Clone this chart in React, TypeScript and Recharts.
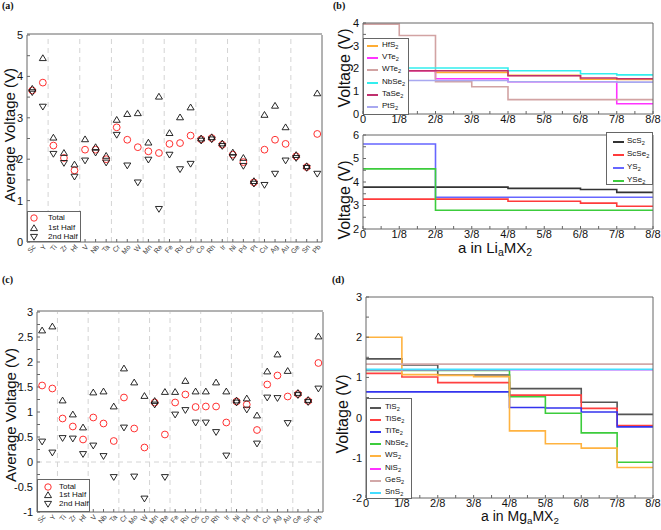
import React from "react";
import {
  Line,
  LineChart,
  ReferenceLine,
  Scatter,
  ScatterChart,
  XAxis,
  YAxis,
} from "recharts";

const SANS = '"Liberation Sans", Arial, Helvetica, sans-serif';
const SERIF = '"Liberation Serif", "DejaVu Serif", serif';
const FRAME = "#666";

// metals on the x axis of (a) and (c), grouped by column of the periodic table
const metals = ["Sc", "Y", "Ti", "Zr", "Hf", "V", "Nb", "Ta", "Cr", "Mo", "W", "Mn", "Re", "Fe", "Ru", "Os", "Co", "Rh", "Ir", "Ni", "Pd", "Pt", "Cu", "Ag", "Au", "Ge", "Sn", "Pb"];
const groupNames = ["III", "IV", "V", "VI", "VII", "VIII", "IX", "X", "XI", "XIV"];
const groupSizes = [2, 3, 3, 3, 2, 3, 3, 3, 3, 3];

// (a) Li, average voltages
const liTotal = [3.66, 3.85, 2.33, 2.03, 1.73, 2.23, 2.23, 2.0, 2.77, 2.47, 2.29, 2.19, 2.15, 2.37, 2.39, 2.57, 2.48, 2.51, 2.35, 2.11, 1.93, 1.44, 2.23, 2.47, 2.37, 2.07, 1.81, 2.61];
const liFirstHalf = [3.7, 4.44, 2.52, 2.15, 1.87, 2.48, 2.29, 2.08, 2.95, 3.09, 3.11, 2.4, 3.51, 2.63, 3.01, 3.25, 2.5, 2.53, 2.38, 2.16, 2.03, 1.47, 3.07, 3.29, 2.77, 2.1, 1.83, 3.59];
const liSecondHalf = [3.62, 3.27, 2.13, 1.91, 1.58, 1.97, 2.16, 1.92, 2.59, 1.85, 1.44, 1.99, 0.8, 2.11, 1.76, 1.89, 2.45, 2.48, 2.32, 2.05, 1.84, 1.41, 1.38, 1.65, 1.97, 2.03, 1.79, 1.65];

// (c) Mg, average voltages
const mgTotal = [1.53, 1.47, 0.87, 0.71, 0.45, 0.89, 0.77, 0.42, 1.29, 0.67, 0.29, 1.19, 0.55, 1.19, 1.35, 1.1, 1.11, 1.11, 0.79, 1.21, 1.15, 0.64, 1.55, 1.73, 1.31, 1.36, 1.22, 1.98];
const mgFirstHalf = [2.63, 2.71, 1.23, 0.95, 0.69, 1.39, 1.41, 1.11, 1.87, 1.59, 1.32, 1.22, 1.4, 1.4, 1.62, 1.41, 1.41, 1.59, 1.41, 1.23, 1.27, 0.93, 1.81, 2.15, 1.82, 1.38, 1.24, 2.51];
const mgSecondHalf = [0.41, 0.19, 0.48, 0.47, 0.16, 0.33, 0.12, -0.3, 0.69, -0.29, -0.73, 1.15, -0.3, 0.95, 1.04, 0.79, 0.79, 0.6, 0.13, 1.19, 1.05, 0.37, 1.29, 1.28, 0.78, 1.34, 1.2, 1.47];

const aTicks = [0, 0.5, 1, 1.5, 2, 2.5, 3, 3.5, 4, 4.5, 5];
const cTicks = [-1, -0.75, -0.5, -0.25, 0, 0.25, 0.5, 0.75, 1, 1.25, 1.5, 1.75, 2, 2.25, 2.5, 2.75, 3];

// (b) and (d): voltage on each 1/8 step of a
const fractions = ["0", "1/8", "2/8", "3/8", "4/8", "5/8", "6/8", "7/8", "8/8"];
const stepTicks = [0, 0.5, 1, 1.5, 2, 2.5, 3, 3.5, 4, 4.5, 5, 5.5, 6, 6.5, 7, 7.5, 8];

const hfS2Li = [1.9, 1.9, 1.83, 1.83, 1.7, 1.7, 1.53, 1.52];
const vTe2Li = [1.9, 1.9, 1.55, 1.55, 1.42, 1.42, 1.42, 0.45];
const wTe2Li = [3.95, 3.45, 1.42, 1.2, 0.63, 0.63, 0.63, 0.63];
const nbSe2Li = [2.02, 2.02, 2.02, 2.02, 1.9, 1.9, 1.77, 1.72];
const taSe2Li = [1.9, 1.9, 1.9, 1.9, 1.68, 1.68, 1.58, 1.55];
const ptS2Li = [1.47, 1.47, 1.47, 1.47, 1.42, 1.42, 1.42, 1.4];

const scS2Li = [3.78, 3.78, 3.78, 3.78, 3.73, 3.73, 3.68, 3.56];
const scSe2Li = [3.27, 3.27, 3.27, 3.27, 3.18, 3.18, 3.1, 2.97];
const yS2Li = [5.62, 5.62, 3.35, 3.35, 3.35, 3.35, 3.35, 3.35];
const ySe2Li = [4.56, 4.56, 2.8, 2.8, 2.8, 2.8, 2.8, 2.8];

const tiS2Mg = [1.46, 1.31, 1.06, 1.06, 0.72, 0.72, 0.38, 0.08];
const tiSe2Mg = [1.1, 1.01, 0.87, 0.87, 0.56, 0.56, 0.23, -0.2];
const tiTe2Mg = [0.64, 0.64, 0.64, 0.64, 0.25, 0.24, 0.14, -0.23];
const nbSe2Mg = [1.17, 1.17, 1.17, 1.17, 0.52, 0.11, -0.38, -1.11];
const wS2Mg = [2.0, 1.07, 1.05, 1.02, -0.33, -0.65, -0.76, -1.24];
const niS2Mg = [1.19, 1.19, 1.19, 1.19, 1.19, 1.19, 1.19, 1.19];
const geS2Mg = [1.33, 1.33, 1.33, 1.33, 1.33, 1.33, 1.33, 1.33];
const snS2Mg = [1.2, 1.2, 1.2, 1.2, 1.2, 1.2, 1.2, 1.2];

type StepSeries = { name: string; color: string; values: number[] };

const liTopSeries: StepSeries[] = [
  { name: "HfS2", color: "#ffad33", values: hfS2Li },
  { name: "VTe2", color: "#ff33ff", values: vTe2Li },
  { name: "WTe2", color: "#d2a3a3", values: wTe2Li },
  { name: "NbSe2", color: "#33eeee", values: nbSe2Li },
  { name: "TaSe2", color: "#c0306e", values: taSe2Li },
  { name: "PtS2", color: "#a8a8f0", values: ptS2Li },
];
const liBottomSeries: StepSeries[] = [
  { name: "ScS2", color: "#333333", values: scS2Li },
  { name: "ScSe2", color: "#ff3b3b", values: scSe2Li },
  { name: "YS2", color: "#6666ff", values: yS2Li },
  { name: "YSe2", color: "#3ccc3c", values: ySe2Li },
];
const mgSeries: StepSeries[] = [
  { name: "TiS2", color: "#555555", values: tiS2Mg },
  { name: "TiSe2", color: "#ff4040", values: tiSe2Mg },
  { name: "TiTe2", color: "#3333ee", values: tiTe2Mg },
  { name: "NbSe2", color: "#3ccc3c", values: nbSe2Mg },
  { name: "WS2", color: "#ffb340", values: wS2Mg },
  { name: "NiS2", color: "#ff33ff", values: niS2Mg },
  { name: "GeS2", color: "#d2a8a8", values: geS2Mg },
  { name: "SnS2", color: "#44ddff", values: snS2Mg },
];

const metalIdx = metals.map((_, i) => i);
const groupStarts = groupSizes.map((_, i) => groupSizes.slice(0, i).reduce((a, b) => a + b, 0));
const groupCenters = groupStarts.map((s, i) => s + (groupSizes[i] - 1) / 2);
const groupBounds = groupStarts.slice(1).map((s) => s - 0.5);

const circleShape = (p: any) => (
  <circle cx={p.cx} cy={p.cy} r={3.4} fill="none" stroke="#ff3030" strokeWidth={1} />
);
const upShape = (p: any) => (
  <path
    d={`M${p.cx},${p.cy - 3.4}L${p.cx + 3.5},${p.cy + 2.4}L${p.cx - 3.5},${p.cy + 2.4}Z`}
    fill="none"
    stroke="#111"
    strokeWidth={0.9}
  />
);
const downShape = (p: any) => (
  <path
    d={`M${p.cx},${p.cy + 3.4}L${p.cx + 3.5},${p.cy - 2.4}L${p.cx - 3.5},${p.cy - 2.4}Z`}
    fill="none"
    stroke="#111"
    strokeWidth={0.9}
  />
);

// every axis is 1px thick so its line sits on the plot edge; margins hold the labels
function VoltageChart({
  total,
  first,
  second,
  yDomain,
  yTicks,
  labelStep,
  width,
  height,
  margin,
  groupGap,
  zeroLine,
}: any) {
  const pts = (vals: number[]) => vals.map((v, i) => ({ x: i, y: v }));
  const xDomain = [-0.5, 27.45];
  const tickFont = { fontSize: 11, fill: "#111" };
  return (
    <ScatterChart width={width} height={height} margin={margin}>
      <XAxis
        xAxisId="b"
        type="number"
        dataKey="x"
        domain={xDomain}
        allowDataOverflow
        ticks={metalIdx}
        interval={0}
        height={1}
        stroke={FRAME}
        tickSize={-3}
        tickMargin={5}
        tickFormatter={(v: number) => metals[v]}
        tick={{ fontSize: 7, fill: "#444", angle: -50, textAnchor: "end" }}
      />
      <XAxis
        xAxisId="t"
        orientation="top"
        type="number"
        domain={xDomain}
        allowDataOverflow
        ticks={metalIdx}
        interval={0}
        height={1}
        stroke={FRAME}
        tickSize={-3}
        tick={false}
      />
      <XAxis
        xAxisId="g"
        orientation="top"
        type="number"
        domain={xDomain}
        allowDataOverflow
        ticks={groupCenters}
        interval={0}
        height={1}
        axisLine={false}
        tickLine={false}
        tickSize={0}
        tickMargin={groupGap}
        tickFormatter={(_: number, i: number) => groupNames[i]}
        tick={{ fontSize: 8, fill: "#222" }}
      />
      <YAxis
        yAxisId="l"
        type="number"
        dataKey="y"
        domain={yDomain}
        allowDataOverflow
        ticks={yTicks}
        interval={0}
        width={1}
        stroke={FRAME}
        tickSize={-3}
        tickMargin={7}
        tickFormatter={(v: number) => (Math.abs(v / labelStep - Math.round(v / labelStep)) < 1e-6 ? String(v) : "")}
        tick={tickFont}
      />
      <YAxis
        yAxisId="r"
        orientation="right"
        type="number"
        domain={yDomain}
        allowDataOverflow
        ticks={yTicks}
        interval={0}
        width={1}
        stroke={FRAME}
        tickSize={-3}
        tick={false}
      />
      {groupBounds.map((b) => (
        <ReferenceLine key={b} xAxisId="b" yAxisId="l" x={b} stroke="#d4d4d4" strokeDasharray="5 4" />
      ))}
      {zeroLine && <ReferenceLine xAxisId="b" yAxisId="l" y={0} stroke="#d4d4d4" strokeDasharray="5 4" />}
      <Scatter xAxisId="b" yAxisId="l" data={pts(total)} shape={circleShape} isAnimationActive={false} />
      <Scatter xAxisId="b" yAxisId="l" data={pts(first)} shape={upShape} isAnimationActive={false} />
      <Scatter xAxisId="b" yAxisId="l" data={pts(second)} shape={downShape} isAnimationActive={false} />
    </ScatterChart>
  );
}

function StepChart({ series, yDomain, yTicks, width, height, margin }: any) {
  const steps = fractions.map((_, i) => i);
  const rows = steps.map((i) => {
    const row: Record<string, number> = { x: i };
    series.forEach((s: StepSeries) => {
      row[s.name] = s.values[Math.min(i, s.values.length - 1)];
    });
    return row;
  });
  return (
    <LineChart width={width} height={height} margin={margin} data={rows}>
      <XAxis
        xAxisId="b"
        type="number"
        dataKey="x"
        domain={[0, 8]}
        ticks={stepTicks}
        interval={0}
        height={1}
        stroke={FRAME}
        tickSize={-3}
        tickMargin={4}
        tickFormatter={(v: number) => (Number.isInteger(v) ? fractions[v] : "")}
        tick={{ fontSize: 11, fill: "#111" }}
      />
      <XAxis
        xAxisId="t"
        orientation="top"
        type="number"
        domain={[0, 8]}
        ticks={stepTicks}
        interval={0}
        height={1}
        stroke={FRAME}
        tickSize={-3}
        tick={false}
      />
      <YAxis
        yAxisId="l"
        type="number"
        domain={yDomain}
        allowDataOverflow
        ticks={yTicks}
        interval={0}
        width={1}
        stroke={FRAME}
        tickSize={-3}
        tickMargin={7}
        tickFormatter={(v: number) => (Number.isInteger(v) ? String(v) : "")}
        tick={{ fontSize: 11, fill: "#111" }}
      />
      <YAxis
        yAxisId="r"
        orientation="right"
        type="number"
        domain={yDomain}
        allowDataOverflow
        ticks={yTicks}
        interval={0}
        width={1}
        stroke={FRAME}
        tickSize={-3}
        tick={false}
      />
      {series.map((s: StepSeries) => (
        <Line
          key={s.name}
          xAxisId="b"
          yAxisId="l"
          dataKey={s.name}
          type="stepAfter"
          stroke={s.color}
          strokeWidth={1.6}
          dot={false}
          isAnimationActive={false}
        />
      ))}
    </LineChart>
  );
}

function Formula({ name }: { name: string }) {
  const base = name.replace(/2$/, "");
  return (
    <span>
      {base}
      {base !== name && <sub style={{ fontSize: "0.7em", verticalAlign: "-0.3em" }}>2</sub>}
    </span>
  );
}

function Txt({ x, y, size, rotate = 0, children, family = SANS, weight = 400, anchor = "middle" }: any) {
  const tx = anchor === "start" ? "0" : "-50%";
  return (
    <div
      style={{
        position: "absolute",
        left: x,
        top: y,
        transform: `translate(${tx},-50%) rotate(${rotate}deg)`,
        fontSize: size,
        fontFamily: family,
        fontWeight: weight,
        whiteSpace: "nowrap",
        lineHeight: 1,
        color: "#111",
      }}
    >
      {children}
    </div>
  );
}

function MarkerLegend({ left, top, width, height, markerX, labelX, rows }: any) {
  const items = [
    { label: "Total", shape: <circle cx={4} cy={4} r={3.2} fill="none" stroke="#ff3030" strokeWidth={1} /> },
    { label: "1st Half", shape: <path d="M4,0.8L7.5,6.6L0.5,6.6Z" fill="none" stroke="#111" strokeWidth={0.9} /> },
    { label: "2nd Half", shape: <path d="M4,7.2L7.5,1.4L0.5,1.4Z" fill="none" stroke="#111" strokeWidth={0.9} /> },
  ];
  return (
    <div
      style={{
        position: "absolute",
        left,
        top,
        width,
        height,
        border: `1px solid ${FRAME}`,
        background: "#fff",
        boxSizing: "border-box",
      }}
    >
      {items.map((it, i) => (
        <React.Fragment key={it.label}>
          <svg width={8} height={8} style={{ position: "absolute", left: markerX - 4, top: rows[i] - 4 }}>
            {it.shape}
          </svg>
          <Txt x={labelX} y={rows[i]} size={8} anchor="start">
            {it.label}
          </Txt>
        </React.Fragment>
      ))}
    </div>
  );
}

function LineLegend({ left, top, width, height, series, firstRow, rowGap, lineX, lineW, labelX }: any) {
  return (
    <div
      style={{
        position: "absolute",
        left,
        top,
        width,
        height,
        border: `1px solid ${FRAME}`,
        background: "#fff",
        boxSizing: "border-box",
      }}
    >
      {series.map((s: StepSeries, i: number) => (
        <React.Fragment key={s.name}>
          <div
            style={{
              position: "absolute",
              left: lineX,
              top: firstRow + i * rowGap - 1,
              width: lineW,
              height: 2,
              background: s.color,
            }}
          />
          <Txt x={labelX} y={firstRow + i * rowGap} size={8} anchor="start">
            <Formula name={s.name} />
          </Txt>
        </React.Fragment>
      ))}
    </div>
  );
}

export default function App() {
  return (
    <div
      style={{
        position: "absolute",
        left: 0,
        top: 0,
        width: 661,
        height: 530,
        background: "#fff",
        fontFamily: SANS,
        overflow: "hidden",
      }}
    >
      <div style={{ position: "absolute", left: 0, top: 0 }}>
        <VoltageChart
          total={liTotal}
          first={liFirstHalf}
          second={liSecondHalf}
          yDomain={[0, 5]}
          yTicks={aTicks}
          labelStep={1}
          width={330}
          height={265}
          margin={{ top: 33, right: 7, bottom: 22, left: 26 }}
          groupGap={10}
        />
      </div>
      <div style={{ position: "absolute", left: 0, top: 265 }}>
        <VoltageChart
          total={mgTotal}
          first={mgFirstHalf}
          second={mgSecondHalf}
          yDomain={[-1, 3]}
          yTicks={cTicks}
          labelStep={0.5}
          width={330}
          height={265}
          margin={{ top: 45, right: 6, bottom: 17, left: 36 }}
          groupGap={11}
          zeroLine
        />
      </div>
      <div style={{ position: "absolute", left: 330, top: 0 }}>
        <StepChart
          series={liTopSeries}
          yDomain={[0, 4]}
          yTicks={[0, 0.5, 1, 1.5, 2, 2.5, 3, 3.5, 4]}
          width={331}
          height={130}
          margin={{ top: 22, right: 7, bottom: 15, left: 32 }}
        />
      </div>
      <div style={{ position: "absolute", left: 330, top: 130 }}>
        <StepChart
          series={liBottomSeries}
          yDomain={[2, 6]}
          yTicks={[2, 2.5, 3, 3.5, 4, 4.5, 5, 5.5, 6]}
          width={331}
          height={135}
          margin={{ top: 4, right: 7, bottom: 35, left: 32 }}
        />
      </div>
      <div style={{ position: "absolute", left: 330, top: 265 }}>
        <StepChart
          series={mgSeries}
          yDomain={[-2, 3]}
          yTicks={[-2, -1.5, -1, -0.5, 0, 0.5, 1, 1.5, 2, 2.5, 3]}
          width={331}
          height={265}
          margin={{ top: 31, right: 7, bottom: 31, left: 35 }}
        />
      </div>

      <Txt x={2} y={6} size={10} family={SERIF} weight={700} anchor="start">(a)</Txt>
      <Txt x={333} y={6} size={10} family={SERIF} weight={700} anchor="start">(b)</Txt>
      <Txt x={2} y={280} size={10} family={SERIF} weight={700} anchor="start">(c)</Txt>
      <Txt x={332} y={280} size={10} family={SERIF} weight={700} anchor="start">(d)</Txt>

      <Txt x={9} y={135} size={15} rotate={-90}>Average Voltage (V)</Txt>
      <Txt x={10} y={415} size={15} rotate={-90}>Average Voltage (V)</Txt>
      <Txt x={345} y={68} size={16} rotate={-90}>Voltage (V)</Txt>
      <Txt x={345} y={200} size={16} rotate={-90}>Voltage (V)</Txt>
      <Txt x={343} y={414} size={16} rotate={-90}>Voltage (V)</Txt>

      <Txt x={495} y={249} size={15}>
        a in Li<sub style={{ fontSize: "0.7em", verticalAlign: "-0.3em" }}>a</sub>MX
        <sub style={{ fontSize: "0.7em", verticalAlign: "-0.3em" }}>2</sub>
      </Txt>
      <Txt x={520} y={517} size={14}>
        a in Mg<sub style={{ fontSize: "0.7em", verticalAlign: "-0.3em" }}>a</sub>MX
        <sub style={{ fontSize: "0.7em", verticalAlign: "-0.3em" }}>2</sub>
      </Txt>

      <MarkerLegend left={27} top={211} width={54} height={31} markerX={6} labelX={20} rows={[6, 15.5, 24.5]} />
      <MarkerLegend left={37} top={479} width={53} height={33} markerX={10} labelX={21} rows={[6.5, 15, 23.5]} />
      <LineLegend
        left={363}
        top={38}
        width={46}
        height={77}
        series={liTopSeries}
        firstRow={7}
        rowGap={12.2}
        lineX={3}
        lineW={11}
        labelX={18}
      />
      <LineLegend
        left={606}
        top={132}
        width={47}
        height={53}
        series={liBottomSeries}
        firstRow={8.5}
        rowGap={13.1}
        lineX={6}
        lineW={11}
        labelX={20}
      />
      <LineLegend
        left={366}
        top={398}
        width={46}
        height={101}
        series={mgSeries}
        firstRow={8.5}
        rowGap={12.2}
        lineX={3}
        lineW={11}
        labelX={18}
      />
    </div>
  );
}
